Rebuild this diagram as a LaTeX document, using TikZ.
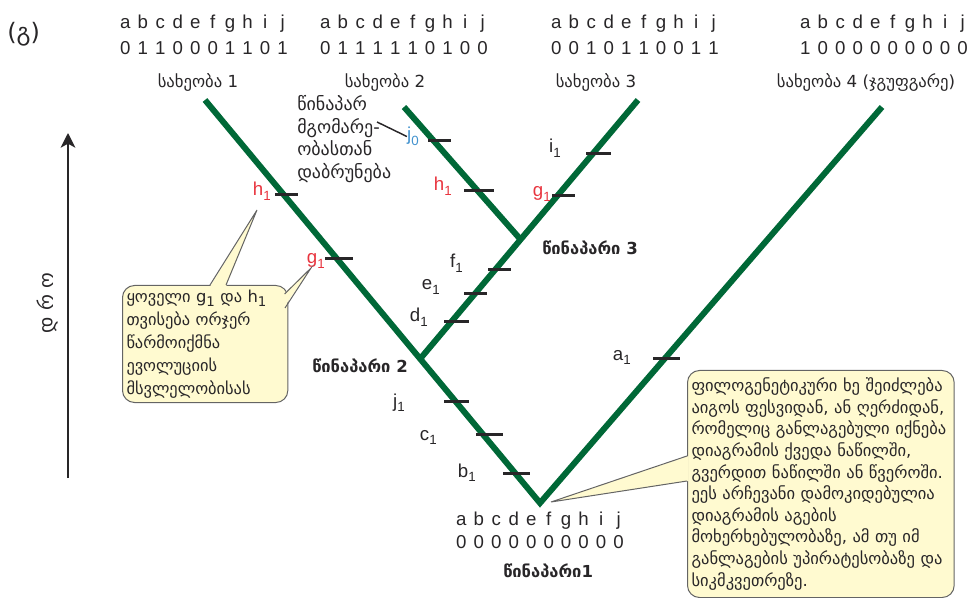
\documentclass[tikz,border=0pt]{standalone}
\usepackage{fontspec}
\setmainfont{Liberation Sans}
\newfontfamily\geo{DejaVu Sans}
\usetikzlibrary{arrows.meta}
\definecolor{treegreen}{RGB}{0,104,55}
\definecolor{lblred}{RGB}{232,52,62}
\definecolor{lblblue}{RGB}{66,146,206}
\definecolor{txt}{RGB}{40,38,40}
\definecolor{callfill}{RGB}{255,250,208}
\definecolor{callborder}{RGB}{100,100,100}
\newcommand\spr[1]{\sprI#1\relax}
\def\sprI#1{\ifx#1\relax\else\makebox[13.1pt]{#1}\expandafter\sprI\fi}
\newcommand\sub[1]{\raisebox{-0.45ex}{\fontsize{10}{10}\selectfont #1}}
\tikzset{
  branch/.style={draw=treegreen, line width=4.5pt},
  tickmark/.style={draw=txt, line width=2.25pt},
  lab/.style={font=\fontsize{14}{14}\selectfont, text=txt, inner sep=0pt, anchor=base east},
  seq/.style={font=\fontsize{14}{14}\selectfont, text=txt, inner sep=0pt, anchor=base},
  spname/.style={font=\geo\fontsize{12.5}{12.5}\selectfont, text=txt, inner sep=0pt, anchor=base},
  anc/.style={font=\geo\bfseries\fontsize{12.4}{12.4}\selectfont, text=txt, inner sep=0pt, anchor=base west},
  callbox/.style={draw=callborder, fill=callfill, line width=0.75pt, rounded corners=9pt, anchor=north west, align=left, text=txt, inner xsep=3pt, inner ysep=0pt},
  ptrfill/.style={fill=callfill},
  ptrline/.style={draw=callborder, line width=0.75pt, line join=miter},
}
\begin{document}
\begin{tikzpicture}[x=0.75pt,y=-0.75pt]
\useasboundingbox (0,0) rectangle (974,598);
% panel label
\node[font=\geo\fontsize{18}{18}\selectfont, text=txt, inner sep=0pt, anchor=base west] (panel) at (7,41) {(გ)};
% species headers
\node[seq] (l1) at (204,29) {\spr{abcdefghij}};
\node[seq] (d1) at (204,55) {\spr{0110001101}};
\node[spname] (n1) at (198,88) {სახეობა 1};
\node[seq] (l2) at (404,29) {\spr{abcdefghij}};
\node[seq] (d2) at (404,55) {\spr{0111110100}};
\node[spname] (n2) at (385,88) {სახეობა 2};
\node[seq] (l3) at (635,29) {\spr{abcdefghij}};
\node[seq] (d3) at (635,55) {\spr{0010110011}};
\node[spname] (n3) at (596,88) {სახეობა 3};
\node[seq] (l4) at (884,29) {\spr{abcdefghij}};
\node[seq] (d4) at (884,55) {\spr{1000000000}};
\node[spname] (n4) at (866,88) {სახეობა 4 (ჯგუფგარე)};
% root sequence
\node[seq] (l0) at (540,525) {\spr{abcdefghij}};
\node[seq] (d0) at (540,548) {\spr{0000000000}};
% tree
\coordinate (R) at (540,503);
\coordinate (A2) at (420,359);
\coordinate (A3) at (521,240);
\coordinate (S1) at (205,100);
\coordinate (S2) at (404,107);
\coordinate (S3) at (638,100);
\coordinate (S4) at (882,107);
\draw[branch] (S1) -- (R) -- (S4);
\draw[branch] (A2) -- (S3);
\draw[branch] (A3) -- (S2);
% ticks
\draw[tickmark] (275,195) -- (298,195);
\draw[tickmark] (325,259) -- (353,259);
\draw[tickmark] (428,141) -- (451,141);
\draw[tickmark] (464,191) -- (494,191);
\draw[tickmark] (586,154) -- (611,154);
\draw[tickmark] (552,196) -- (575,196);
\draw[tickmark] (488,270) -- (511,270);
\draw[tickmark] (464,294) -- (487,294);
\draw[tickmark] (444,322) -- (469,322);
\draw[tickmark] (444,401) -- (469,401);
\draw[tickmark] (476,434) -- (503,434);
\draw[tickmark] (503,473) -- (530,473);
\draw[tickmark] (653,359) -- (680,359);
% trait labels
\node[lab, text=lblred] (th1a) at (271,196) {h\sub{1}};
\node[lab, text=lblred] (tg1a) at (325,264) {g\sub{1}};
\node[lab, text=lblblue] (tj0) at (419,141) {j\sub{0}};
\node[lab, text=lblred] (th1b) at (452,191) {h\sub{1}};
\node[lab] (ti1) at (561,153) {i\sub{1}};
\node[lab, text=lblred] (tg1b) at (551,197) {g\sub{1}};
\node[lab] (tf1) at (463,268) {f\sub{1}};
\node[lab] (te1) at (440,290) {e\sub{1}};
\node[lab] (td1) at (428,322) {d\sub{1}};
\node[lab] (tj1) at (405,407) {j\sub{1}};
\node[lab] (tc1) at (437,440) {c\sub{1}};
\node[lab] (tb1) at (476,477) {b\sub{1}};
\node[lab] (ta1) at (631,360) {a\sub{1}};
% ancestors
\node[anc] (anc3) at (542,255) {წინაპარი 3};
\node[anc] (anc2) at (312,373) {წინაპარი 2};
\node[anc] (anc1) at (503,577) {წინაპარი1};
% reversal note
\node[font=\geo\fontsize{13.5}{17}\selectfont, text=txt, align=left, inner sep=0pt, anchor=north west] (rev) at (297,95) {წინაპარ\\მგომარე-\\ობასთან\\დაბრუნება};
\coordinate (revp) at (377,122);
\draw[draw=txt, line width=1.1pt] (revp) -- (tj0.west);
% time axis
\coordinate (t0) at (68,478);
\coordinate (t1) at (68,133);
\draw[draw=txt, line width=1.5pt, -{Stealth[length=11pt,width=11pt,inset=3pt]}] (t0) -- (t1);
\node[rotate=90, font=\geo\fontsize{15}{15}\selectfont, text=txt, inner sep=0pt] (time) at (47,303) {\makebox[16.5pt]{დ}\makebox[16.5pt]{რ}\makebox[16.5pt]{ო}};
% left callout
\node[callbox, minimum width=122.25pt, minimum height=87.75pt, text width=118pt, font=\geo\fontsize{12.3}{17.3}\selectfont] (cb1) at (122,285) {ყოველი g\sub{1} და h\sub{1}\\თვისება ორჯერ\\წარმოიქმნა\\ევოლუციის\\მსვლელობისას};
\coordinate (p1) at (257,210);
\coordinate (p2) at (311,268);
\fill[ptrfill] (210,286.5) -- (p1) -- (226,286.5) -- cycle;
\draw[ptrline] (210,285) -- (p1) -- (226,285);
\fill[ptrfill] (283.5,294) -- (p2) -- (283.5,308) -- cycle;
\draw[ptrline] (284.6,294) -- (p2) -- (285,308);
% right callout
\node[callbox, minimum width=195.75pt, minimum height=170.25pt, text width=194pt, font=\geo\fontsize{12.4}{16.2}\selectfont] (cb2) at (687,370) {ფილოგენეტიკური ხე შეიძლება\\აიგოს ფესვიდან, ან ღერძიდან,\\რომელიც განლაგებული იქნება\\დიაგრამის ქვედა ნაწილში,\\გვერდით ნაწილში ან წვეროში.\\ეეს არჩევანი დამოკიდებულია\\დიაგრამის აგების\\მოხერხებულობაზე, ამ თუ იმ\\განლაგების უპირატესობაზე და\\სიკმკვეთრეზე.};
\coordinate (p3) at (551,502);
\fill[ptrfill] (688.5,456) -- (p3) -- (688.5,481) -- cycle;
\draw[ptrline] (687,456) -- (p3) -- (687,481);
\end{tikzpicture}
\end{document}
